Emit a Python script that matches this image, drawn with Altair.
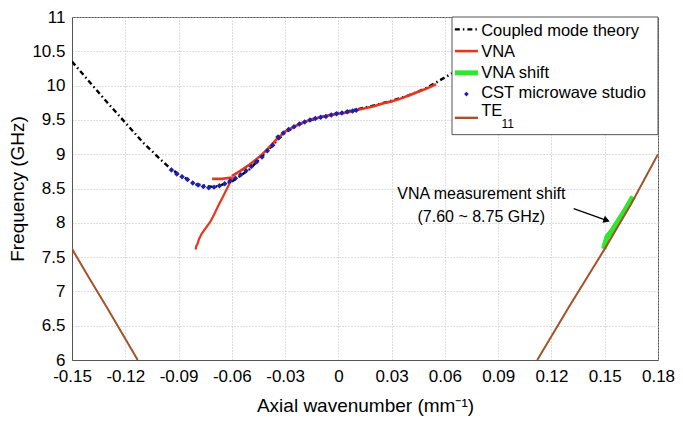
import altair as alt
import pandas as pd

FONT = "Liberation Sans"

X_TICKS = [-0.15, -0.12, -0.09, -0.06, -0.03, 0, 0.03, 0.06, 0.09, 0.12, 0.15, 0.18]
Y_TICKS = [6, 6.5, 7, 7.5, 8, 8.5, 9, 9.5, 10, 10.5, 11]

# Coupled mode theory
cmt_k = [-0.15, -0.14, -0.13, -0.12, -0.11, -0.10, -0.095, -0.09, -0.08, -0.07, -0.06, -0.05,
         -0.04, -0.03, -0.02, -0.01, 0.0, 0.01, 0.02, 0.03, 0.04, 0.05, 0.064]
cmt_f = [10.35, 10.05, 9.75, 9.46, 9.17, 8.92, 8.80, 8.71, 8.56, 8.52, 8.60, 8.78,
         9.05, 9.32, 9.46, 9.54, 9.60, 9.65, 9.71, 9.78, 9.86, 9.97, 10.18]

# VNA measurement (three pieces)
vna_low_k = [-0.0804, -0.0800, -0.0792, -0.0785, -0.0770, -0.0748, -0.0720, -0.0700,
             -0.0674, -0.0650, -0.0627, -0.0608, -0.0595]
vna_low_f = [7.61, 7.66, 7.70, 7.76, 7.84, 7.92, 8.02, 8.12, 8.26, 8.38, 8.50, 8.60, 8.66]
vna_stub_k = [-0.0711, -0.0655, -0.0600]
vna_stub_f = [8.64, 8.64, 8.66]
vna_up_k = [-0.060, -0.055, -0.050, -0.045, -0.040, -0.035, -0.030, -0.025, -0.020,
            -0.015, -0.010, -0.005, 0.0, 0.005, 0.010, 0.015, 0.020, 0.025, 0.030,
            0.035, 0.040, 0.045, 0.050, 0.055]
vna_up_f = [8.68, 8.76, 8.85, 8.95, 9.07, 9.21, 9.33, 9.40, 9.46, 9.51, 9.54, 9.57,
            9.59, 9.61, 9.64, 9.67, 9.70, 9.74, 9.77, 9.81, 9.86, 9.91, 9.96, 10.02]

# VNA shift
shift_k = [0.1495, 0.1505, 0.1515, 0.1540, 0.1570, 0.1600, 0.1630, 0.1660]
shift_f = [7.62, 7.72, 7.80, 7.88, 8.00, 8.12, 8.25, 8.38]

# CST microwave studio
cst_k = [-0.094, -0.091, -0.088, -0.085, -0.082, -0.079, -0.076, -0.073, -0.070, -0.067,
         -0.064, -0.061, -0.058, -0.055, -0.052, -0.049, -0.046, -0.043, -0.040, -0.037,
         -0.034, -0.031, -0.028, -0.025, -0.022, -0.019, -0.016, -0.013, -0.010, -0.007,
         -0.004, -0.001, 0.002, 0.005, 0.008, 0.010]
cst_f = [8.77, 8.71, 8.67, 8.63, 8.58, 8.55, 8.53, 8.51, 8.52, 8.54,
         8.57, 8.61, 8.65, 8.70, 8.76, 8.82, 8.89, 8.96, 9.05, 9.13,
         9.25, 9.31, 9.36, 9.40, 9.44, 9.47, 9.50, 9.52, 9.54, 9.55,
         9.57, 9.59, 9.60, 9.62, 9.63, 9.64]

# TE11 (two branches)
te_left_k = [-0.15, -0.14, -0.13, -0.12, -0.113]
te_left_f = [7.62, 7.18, 6.75, 6.31, 6.0]
te_right_k = [0.112, 0.13, 0.15, 0.165, 0.18]
te_right_f = [6.0, 6.78, 7.62, 8.28, 9.0]

# Annotation
note_lines = ["VNA measurement shift", "(7.60 ~ 8.75 GHz)"]
note_k = [0.0805, 0.0805]
note_f = [8.42, 8.08]
arrow_k = [0.1325, 0.1511]
arrow_f = [8.205, 8.036]

# Legend (placed in data coordinates)
leg_names = ["Coupled mode theory", "VNA", "VNA shift", "CST microwave studio", "TE"]
leg_row_f = [10.82, 10.503, 10.186, 9.876, 9.53]
leg_text_f = [10.80, 10.49, 10.18, 9.89, 9.63]


def df(k, f):
    return pd.DataFrame({"k": k, "f": f, "i": list(range(len(k)))})


xs = alt.Scale(domain=[-0.15, 0.18], nice=False, zero=False)
ys = alt.Scale(domain=[6, 11], nice=False, zero=False)

x_axis = alt.Axis(
    values=X_TICKS,
    labelExpr="replace(format(datum.value, '~g'), '\u2212', '-')",
    title="Axial wavenumber (mm\u207b\u00b9)",
    grid=True, ticks=False, labelOverlap=False, labelFlush=False,
    labelPadding=8, titlePadding=12,
)
y_axis = alt.Axis(
    values=Y_TICKS,
    labelExpr="replace(format(datum.value, '~g'), '\u2212', '-')",
    title="Frequency (GHz)",
    grid=True, ticks=False, labelOverlap=False, labelFlush=False,
    labelPadding=7, titlePadding=4,
)

X = alt.X("k:Q", scale=xs, axis=x_axis)
Y = alt.Y("f:Q", scale=ys, axis=y_axis)
X2 = alt.X2("k2:Q")
ORD = alt.Order("i:Q")

cmt = alt.Chart(df(cmt_k, cmt_f)).mark_line(
    color="black", strokeWidth=2.4, strokeDash=[5, 3, 1.5, 3], clip=True
).encode(x=X, y=Y, order=ORD)

RED = "#e5371f"
vna_low = alt.Chart(df(vna_low_k, vna_low_f)).mark_line(color=RED, strokeWidth=2.2, clip=True).encode(x=X, y=Y, order=ORD)
vna_stub = alt.Chart(df(vna_stub_k, vna_stub_f)).mark_line(color=RED, strokeWidth=2.6, clip=True).encode(x=X, y=Y, order=ORD)
vna_up = alt.Chart(df(vna_up_k, vna_up_f)).mark_line(color=RED, strokeWidth=2.6, clip=True).encode(x=X, y=Y, order=ORD)

GREEN = "#2ee82e"
shift = alt.Chart(df(shift_k, shift_f)).mark_line(color=GREEN, strokeWidth=5.5, clip=True).encode(x=X, y=Y, order=ORD)

BLUE = "#1e1eb8"
cst = alt.Chart(df(cst_k, cst_f)).mark_point(
    shape="diamond", filled=True, color=BLUE, size=30, opacity=1, clip=True
).encode(x=X, y=Y)

BROWN = "#a3522a"
te_l = alt.Chart(df(te_left_k, te_left_f)).mark_line(color=BROWN, strokeWidth=2, clip=True).encode(x=X, y=Y, order=ORD)
te_r = alt.Chart(df(te_right_k, te_right_f)).mark_line(color=BROWN, strokeWidth=2, clip=True).encode(x=X, y=Y, order=ORD)

# annotation
note = alt.Chart(pd.DataFrame({"k": note_k, "f": note_f, "t": note_lines})).mark_text(
    font=FONT, fontSize=16, color="black", align="center", baseline="middle"
).encode(x=X, y=Y, text="t:N")
arrow = alt.Chart(df(arrow_k, arrow_f)).mark_line(color="black", strokeWidth=1.3).encode(x=X, y=Y, order=ORD)
arrow_head = alt.Chart(df(arrow_k[-1:], arrow_f[-1:])).mark_point(
    shape="triangle-right", filled=True, color="black", size=55, angle=19, opacity=1
).encode(x=X, y=Y)

# legend
leg_box = alt.Chart(pd.DataFrame({"k": [0.0640], "k2": [0.18], "f": [9.285], "f2": [11.0]})).mark_rect(
    fill="white", stroke="#555555", strokeWidth=1
).encode(x=X, x2=X2, y=Y, y2=alt.Y2("f2:Q"))

sym_k0, sym_k1 = 0.0656, 0.0786


def leg_rule(row, **kw):
    d = pd.DataFrame({"k": [sym_k0], "k2": [sym_k1], "f": [leg_row_f[row]]})
    return alt.Chart(d).mark_rule(**kw).encode(x=X, x2=X2, y=Y)


leg_cmt = leg_rule(0, color="black", strokeWidth=2.4, strokeDash=[5, 3, 1.5, 3])
leg_vna = leg_rule(1, color=RED, strokeWidth=2.6)
leg_shift = leg_rule(2, color=GREEN, strokeWidth=5)
leg_te = leg_rule(4, color=BROWN, strokeWidth=2.4)
leg_cst = alt.Chart(pd.DataFrame({"k": [(sym_k0 + sym_k1) / 2], "f": [leg_row_f[3]]})).mark_point(
    shape="diamond", filled=True, color=BLUE, size=22, opacity=1
).encode(x=X, y=Y)

leg_text = alt.Chart(pd.DataFrame({"k": [0.0804] * 5, "f": leg_text_f, "t": leg_names})).mark_text(
    font=FONT, fontSize=16.5, color="black", align="left", baseline="middle"
).encode(x=X, y=Y, text="t:N")
leg_sub = alt.Chart(pd.DataFrame({"k": [0.0918], "f": [9.44], "t": ["11"]})).mark_text(
    font=FONT, fontSize=12, color="black", align="left", baseline="middle"
).encode(x=X, y=Y, text="t:N")

chart = alt.layer(
    cmt, vna_low, vna_stub, vna_up, shift, cst, te_l, te_r,
    note, arrow, arrow_head,
    leg_box, leg_cmt, leg_vna, leg_shift, leg_cst, leg_te, leg_text, leg_sub,
).properties(
    width=586, height=343,
    autosize=alt.AutoSizeParams(type="none"),
    padding={"left": 64, "top": 9, "right": 17, "bottom": 56},
    background="white",
).configure_axis(
    labelFont=FONT, labelFontSize=17, labelColor="black",
    titleFont=FONT, titleFontSize=19, titleFontWeight="normal", titleColor="black",
    domainColor="#555555", gridColor="#bdbdbd", gridDash=[1, 2], gridWidth=1,
).configure_view(stroke="#555555", strokeWidth=1)

chart.save("out.html", embed_options={"renderer": "svg", "actions": False})
